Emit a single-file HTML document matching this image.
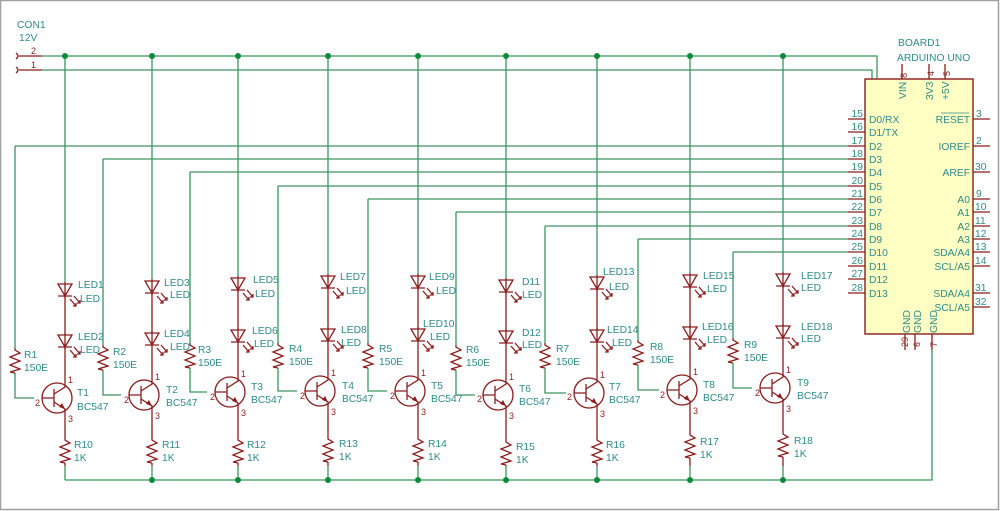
<!DOCTYPE html>
<html><head><meta charset="utf-8"><style>
html,body{margin:0;padding:0;background:#fff}
svg{display:block}
text{font-family:"Liberation Sans",sans-serif;font-size:10.3px;fill:#2f8a8a}
.w{stroke:#3a9562;stroke-width:1.3;fill:none}
.c{stroke:#8b1d1d;stroke-width:1.3;fill:none}
.pn{fill:#8b1d1d;font-size:9px}
</style></head><body>
<svg width="1000" height="511" viewBox="0 0 1000 511" xmlns="http://www.w3.org/2000/svg">
<defs>
<g id="led">
<path class="c" d="M-7 0 L7 0 L0 12 Z M-7 12 L7 12 M0 -2 L0 14"/>
<path class="c" d="M5 15 L11 22 M8 22 L11 22 L11 19 M9 12 L15 19 M12 19 L15 19 L15 16" stroke-width="1"/>
</g>
<g id="res"><path class="c" d="M0 0 L0 2 L5 5 L-5 9 L5 13 L-5 17 L5 21 L-5 24 L0 25"/></g>
<g id="tr">
<circle class="c" cx="-8" cy="0" r="15"/>
<path class="c" d="M-23 0 L-11 0 M-11 -9 L-11 9 M-11 -4 L0 -11 L0 -20 M-11 4 L0 11 L0 17"/>
<path d="M0 11 L-6 9 L-3 5 Z" fill="#8b1d1d"/>
</g>
</defs>
<rect x="0.5" y="0.5" width="998" height="509" fill="none" stroke="#a0a0a0" stroke-width="1.5"/>

<text x="17" y="28">CON1</text><text x="19" y="41">12V</text>
<path class="c" d="M16 53 Q20 56 16 59 M16 67 Q20 70 16 73 M19 56 L42 56 M19 70 L42 70"/>
<text x="31" y="54" class="pn">2</text><text x="31" y="68" class="pn">1</text>
<path class="w" d="M42 56 L877 56 L877 79 M42 70 L872 70 L872 79"/>

<path class="w" d="M65 480 L932 480 L932 350"/>

<text x="898" y="46">BOARD1</text><text x="897" y="61">ARDUINO UNO</text>
<rect x="865" y="79" width="108" height="255" fill="#ffffc4" stroke="#8b1d1d" stroke-width="1.4"/>
<path class="c" d="M902 64 L902 79 M929 64 L929 79 M945 64 L945 79 M905 334 L905 350 M915 334 L915 350 M932 334 L932 350"/>
<text class="pn" transform="translate(907,78) rotate(-90)">8</text>
<text class="pn" transform="translate(934,76) rotate(-90)">4</text>
<text class="pn" transform="translate(950,76) rotate(-90)">5</text>
<text transform="translate(906,99) rotate(-90)">VIN</text>
<text transform="translate(933,100) rotate(-90)">3V3</text>
<text transform="translate(949,100) rotate(-90)">+5V</text>
<text transform="translate(910,333) rotate(-90)">GND</text>
<text transform="translate(921,333) rotate(-90)">GND</text>
<text transform="translate(937,333) rotate(-90)">GND</text>
<text class="pn" transform="translate(908,347) rotate(-90)">29</text>
<text class="pn" transform="translate(920,347) rotate(-90)">6</text>
<text class="pn" transform="translate(937,347) rotate(-90)">7</text>

<g class="c">
<path d="M848 119 H865 M848 132 H865 M848 146 H865 M848 159 H865 M848 172 H865 M848 186 H865 M848 199 H865 M848 212 H865 M848 226 H865 M848 239 H865 M848 252 H865 M848 266 H865 M848 279 H865 M848 293 H865"/>
<path d="M973 119 H990 M973 146 H990 M973 172 H990 M973 199 H990 M973 212 H990 M973 226 H990 M973 239 H990 M973 252 H990 M973 266 H990 M973 293 H990 M973 307 H990"/>
</g>
<g class="pn" text-anchor="end">
<text x="863" y="117">15</text><text x="863" y="130">16</text><text x="863" y="144">17</text><text x="863" y="157">18</text><text x="863" y="170">19</text><text x="863" y="184">20</text><text x="863" y="197">21</text><text x="863" y="210">22</text><text x="863" y="224">23</text><text x="863" y="237">24</text><text x="863" y="250">25</text><text x="863" y="264">26</text><text x="863" y="277">27</text><text x="863" y="291">28</text>
</g>
<g class="pn">
<text x="976" y="117">3</text><text x="976" y="144">2</text><text x="975" y="170">30</text><text x="976" y="197">9</text><text x="975" y="210">10</text><text x="975" y="224">11</text><text x="975" y="237">12</text><text x="975" y="250">13</text><text x="975" y="264">14</text><text x="975" y="291">31</text><text x="975" y="305">32</text>
</g>
<g>
<text x="869" y="123">D0/RX</text><text x="869" y="136">D1/TX</text><text x="869" y="150">D2</text><text x="869" y="163">D3</text><text x="869" y="176">D4</text><text x="869" y="190">D5</text><text x="869" y="203">D6</text><text x="869" y="216">D7</text><text x="869" y="230">D8</text><text x="869" y="243">D9</text><text x="869" y="256">D10</text><text x="869" y="270">D11</text><text x="869" y="283">D12</text><text x="869" y="297">D13</text>
</g>
<g text-anchor="end">
<text x="970" y="123">RESET</text><text x="970" y="150">IOREF</text><text x="970" y="176">AREF</text><text x="970" y="203">A0</text><text x="970" y="216">A1</text><text x="970" y="230">A2</text><text x="970" y="243">A3</text><text x="970" y="256">SDA/A4</text><text x="970" y="270">SCL/A5</text><text x="970" y="297">SDA/A4</text><text x="970" y="311">SCL/A5</text>
</g>
<path d="M941 113 H969" stroke="#2f8a8a" stroke-width="0.8"/>

<path class="w" d="M65 56 V282 M15 146 H848 M15 146 V348 M15 373 V398 H34 M65 466 V480"/>
<path class="c" d="M65 296 V334 M65 348 V378 M65 415 V438 M65 463 V466"/>
<use href="#led" x="65" y="284"/><use href="#led" x="65" y="335"/><use href="#res" x="15" y="348"/><use href="#tr" x="65" y="398"/><use href="#res" x="65" y="438"/>
<text x="78" y="288">LED1</text><text x="80" y="302">LED</text><text x="78" y="340">LED2</text><text x="80" y="353">LED</text>
<text x="24" y="358">R1</text><text x="24" y="371">150E</text><text x="77" y="396">T1</text><text x="77" y="410">BC547</text>
<text x="74" y="448">R10</text><text x="74" y="461">1K</text>
<text class="pn" x="35" y="406">2</text><text class="pn" x="68" y="383">1</text><text class="pn" x="68" y="422">3</text>

<path class="w" d="M152 56 V279 M103 159 H848 M103 159 V345 M103 370 V395 H121 M152 466 V480"/>
<path class="c" d="M152 293 V333 M152 347 V375 M152 412 V438 M152 463 V466"/>
<use href="#led" x="152" y="281"/><use href="#led" x="152" y="333"/><use href="#res" x="103" y="345"/><use href="#tr" x="152" y="395"/><use href="#res" x="152" y="438"/>
<text x="164" y="286">LED3</text><text x="170" y="298">LED</text><text x="164" y="337">LED4</text><text x="170" y="350">LED</text>
<text x="113" y="355">R2</text><text x="113" y="368">150E</text><text x="166" y="393">T2</text><text x="166" y="406">BC547</text>
<text x="162" y="448">R11</text><text x="162" y="461">1K</text>
<text class="pn" x="124" y="403">2</text><text class="pn" x="155" y="380">1</text><text class="pn" x="155" y="419">3</text>

<path class="w" d="M238 56 V276 M190 172 H848 M190 172 V343 M190 368 V392 H207 M238 466 V480"/>
<path class="c" d="M238 290 V330 M238 344 V372 M238 409 V438 M238 463 V466"/>
<use href="#led" x="238" y="278"/><use href="#led" x="238" y="330"/><use href="#res" x="190" y="343"/><use href="#tr" x="238" y="392"/><use href="#res" x="238" y="438"/>
<text x="253" y="283">LED5</text><text x="255" y="297">LED</text><text x="252" y="334">LED6</text><text x="254" y="347">LED</text>
<text x="198" y="353">R3</text><text x="198" y="366">150E</text><text x="251" y="390">T3</text><text x="251" y="403">BC547</text>
<text x="247" y="448">R12</text><text x="247" y="461">1K</text>
<text class="pn" x="210" y="400">2</text><text class="pn" x="241" y="377">1</text><text class="pn" x="241" y="416">3</text>

<path class="w" d="M328 56 V274 M278 186 H848 M278 186 V343 M278 368 V391 H297 M328 466 V480"/>
<path class="c" d="M328 288 V329 M328 343 V371 M328 408 V437 M328 462 V466"/>
<use href="#led" x="328" y="276"/><use href="#led" x="328" y="329"/><use href="#res" x="278" y="343"/><use href="#tr" x="328" y="391"/><use href="#res" x="328" y="437"/>
<text x="340" y="280">LED7</text><text x="346" y="294">LED</text><text x="341" y="333">LED8</text><text x="341" y="346">LED</text>
<text x="289" y="352">R4</text><text x="289" y="365">150E</text><text x="342" y="389">T4</text><text x="342" y="402">BC547</text>
<text x="339" y="447">R13</text><text x="339" y="460">1K</text>
<text class="pn" x="300" y="399">2</text><text class="pn" x="331" y="376">1</text><text class="pn" x="331" y="415">3</text>

<path class="w" d="M418 56 V274 M368 199 H848 M368 199 V343 M368 368 V391 H387 M418 466 V480"/>
<path class="c" d="M418 288 V329 M418 343 V371 M418 408 V437 M418 462 V466"/>
<use href="#led" x="418" y="276"/><use href="#led" x="418" y="329"/><use href="#res" x="368" y="343"/><use href="#tr" x="418" y="391"/><use href="#res" x="418" y="437"/>
<text x="429" y="280">LED9</text><text x="436" y="294">LED</text><text x="423" y="327">LED10</text><text x="430" y="340">LED</text>
<text x="379" y="352">R5</text><text x="379" y="365">150E</text><text x="431" y="389">T5</text><text x="431" y="402">BC547</text>
<text x="428" y="447">R14</text><text x="428" y="460">1K</text>
<text class="pn" x="390" y="399">2</text><text class="pn" x="421" y="376">1</text><text class="pn" x="421" y="415">3</text>

<path class="w" d="M506 56 V278 M456 212 H848 M456 212 V345 M456 370 V395 H475 M506 466 V480"/>
<path class="c" d="M506 292 V331 M506 345 V375 M506 412 V440 M506 465 V466"/>
<use href="#led" x="506" y="280"/><use href="#led" x="506" y="331"/><use href="#res" x="456" y="345"/><use href="#tr" x="506" y="395"/><use href="#res" x="506" y="440"/>
<text x="522" y="285">D11</text><text x="522" y="298">LED</text><text x="522" y="336">D12</text><text x="522" y="348">LED</text>
<text x="466" y="353">R6</text><text x="466" y="366">150E</text><text x="519" y="392">T6</text><text x="519" y="405">BC547</text>
<text x="516" y="450">R15</text><text x="516" y="463">1K</text>
<text class="pn" x="477" y="402">2</text><text class="pn" x="509" y="380">1</text><text class="pn" x="509" y="419">3</text>

<path class="w" d="M597 56 V275 M545 226 H848 M545 226 V343 M545 368 V393 H566 M597 466 V480"/>
<path class="c" d="M597 289 V330 M597 344 V373 M597 410 V438 M597 463 V466"/>
<use href="#led" x="597" y="277"/><use href="#led" x="597" y="330"/><use href="#res" x="545" y="343"/><use href="#tr" x="597" y="393"/><use href="#res" x="597" y="438"/>
<text x="603" y="275">LED13</text><text x="609" y="290">LED</text><text x="607" y="333">LED14</text><text x="612" y="346">LED</text>
<text x="556" y="352">R7</text><text x="556" y="365">150E</text><text x="609" y="390">T7</text><text x="609" y="403">BC547</text>
<text x="606" y="448">R16</text><text x="606" y="461">1K</text>
<text class="pn" x="567" y="400">2</text><text class="pn" x="600" y="378">1</text><text class="pn" x="600" y="417">3</text>

<path class="w" d="M690 56 V273 M638 239 H848 M638 239 V340 M638 365 V390 H659 M690 466 V480"/>
<path class="c" d="M690 287 V327 M690 341 V370 M690 407 V433 M690 458 V466"/>
<use href="#led" x="690" y="275"/><use href="#led" x="690" y="327"/><use href="#res" x="638" y="340"/><use href="#tr" x="690" y="390"/><use href="#res" x="690" y="433"/>
<text x="703" y="279">LED15</text><text x="707" y="292">LED</text><text x="702" y="330">LED16</text><text x="707" y="343">LED</text>
<text x="650" y="350">R8</text><text x="650" y="363">150E</text><text x="703" y="388">T8</text><text x="703" y="401">BC547</text>
<text x="700" y="445">R17</text><text x="700" y="458">1K</text>
<text class="pn" x="660" y="398">2</text><text class="pn" x="693" y="375">1</text><text class="pn" x="693" y="414">3</text>

<path class="w" d="M783 56 V272 M733 252 H848 M733 252 V338 M733 363 V388 H752 M783 466 V480"/>
<path class="c" d="M783 286 V326 M783 340 V368 M783 405 V432 M783 457 V466"/>
<use href="#led" x="783" y="274"/><use href="#led" x="783" y="326"/><use href="#res" x="733" y="338"/><use href="#tr" x="783" y="388"/><use href="#res" x="783" y="432"/>
<text x="801" y="279">LED17</text><text x="801" y="291">LED</text><text x="801" y="330">LED18</text><text x="801" y="342">LED</text>
<text x="744" y="348">R9</text><text x="744" y="361">150E</text><text x="797" y="386">T9</text><text x="797" y="399">BC547</text>
<text x="794" y="444">R18</text><text x="794" y="457">1K</text>
<text class="pn" x="755" y="396">2</text><text class="pn" x="786" y="373">1</text><text class="pn" x="786" y="412">3</text>

<g fill="#0c8a3c">
<circle cx="65" cy="56" r="3"/><circle cx="152" cy="56" r="3"/><circle cx="238" cy="56" r="3"/><circle cx="328" cy="56" r="3"/><circle cx="418" cy="56" r="3"/><circle cx="506" cy="56" r="3"/><circle cx="597" cy="56" r="3"/><circle cx="690" cy="56" r="3"/><circle cx="783" cy="56" r="3"/>
<circle cx="152" cy="480" r="3"/><circle cx="238" cy="480" r="3"/><circle cx="328" cy="480" r="3"/><circle cx="418" cy="480" r="3"/><circle cx="506" cy="480" r="3"/><circle cx="597" cy="480" r="3"/><circle cx="690" cy="480" r="3"/><circle cx="783" cy="480" r="3"/>
</g>
</svg>
</body></html>
